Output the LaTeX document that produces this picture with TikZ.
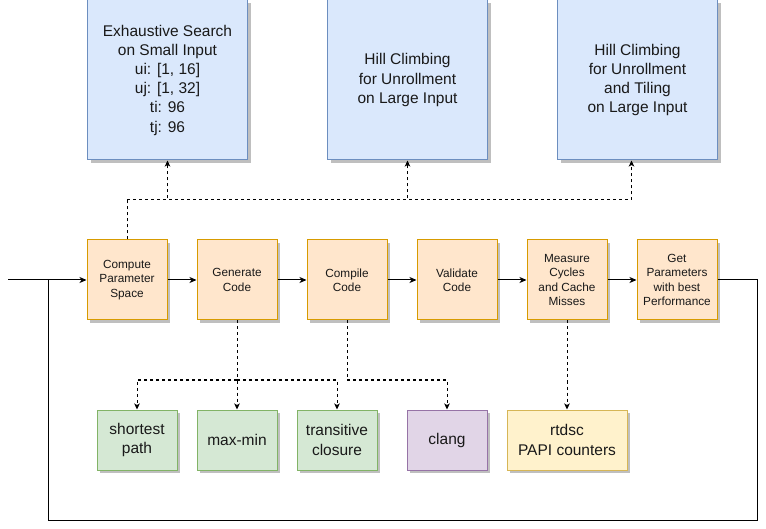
\documentclass[tikz,border=0pt]{standalone}
\usepackage{fontspec}
\setmainfont{Liberation Sans}
\usetikzlibrary{arrows.meta,shadows,calc}
\definecolor{bfill}{HTML}{DAE8FC}\definecolor{bdraw}{HTML}{6C8EBF}
\definecolor{ofill}{HTML}{FFE6CC}\definecolor{odraw}{HTML}{D79B00}
\definecolor{gfill}{HTML}{D5E8D4}\definecolor{gdraw}{HTML}{82B366}
\definecolor{pfill}{HTML}{E1D5E7}\definecolor{pdraw}{HTML}{9673A6}
\definecolor{yfill}{HTML}{FFF2CC}\definecolor{ydraw}{HTML}{D6B656}
\tikzset{
  box/.style={rectangle, line width=1pt, inner sep=0pt, align=center, text=black!90,
    drop shadow={shadow xshift=3pt, shadow yshift=-3pt, fill=black!25, opacity=1}},
  topbox/.style={box, fill=bfill, draw=bdraw, minimum width=160pt, minimum height=160pt,
    font=\fontsize{15.5}{19.2}\selectfont},
  stepbox/.style={box, fill=ofill, draw=odraw, minimum width=80pt, minimum height=80pt,
    font=\fontsize{11.8}{14.4}\selectfont},
  botbox/.style={box, minimum width=80pt, minimum height=60pt, font=\fontsize{15.5}{19.2}\selectfont},
  gbox/.style={botbox, fill=gfill, draw=gdraw},
  arr/.style={line width=1pt, -{Stealth[length=7pt,width=6pt,inset=2pt]}},
  plain/.style={line width=1pt},
  dline/.style={line width=1pt, dash pattern=on 3pt off 3pt},
  darr/.style={dline, -{Stealth[length=6pt,width=5.5pt,inset=1.5pt]}},
}
\begin{document}
\begin{tikzpicture}[x=1pt,y=-1pt]
\useasboundingbox (0,0) rectangle (766,529);
\fill[white] (0,0) rectangle (766,529);
% top boxes
\node[topbox] (s1) at (167.5,80) {Exhaustive Search\\on Small Input\\ui: [1, 16]\\uj: [1, 32]\\ti: 96\\tj: 96};
\node[topbox] (s2) at (407.5,80) {Hill Climbing\\for Unrollment\\on Large Input};
\node[topbox] (s3) at (637.5,80) {Hill Climbing\\for Unrollment\\and Tiling\\on Large Input};
% step boxes
\node[stepbox] (c1) at (127,280) {Compute\\Parameter\\Space};
\node[stepbox] (c2) at (237,280) {Generate\\Code};
\node[stepbox] (c3) at (347,280) {Compile\\Code};
\node[stepbox] (c4) at (457,280) {Validate\\Code};
\node[stepbox] (c5) at (567,280) {Measure\\Cycles\\and Cache\\Misses};
\node[stepbox] (c6) at (677,280) {Get\\Parameters\\with best\\Performance};
% bottom boxes
\node[gbox] (b1) at (137,440) {shortest\\path};
\node[gbox] (b2) at (237,440) {max-min};
\node[gbox] (b3) at (337,440) {transitive\\closure};
\node[botbox, fill=pfill, draw=pdraw] (b4) at (447,440) {clang};
\node[botbox, fill=yfill, draw=ydraw, minimum width=120pt] (b5) at (567,440) {rtdsc\\PAPI counters};
% main flow
\coordinate (in) at (8,280);
\draw[arr] (in) -- (c1.west);
\draw[arr] (c1) -- (c2);
\draw[arr] (c2) -- (c3);
\draw[arr] (c3) -- (c4);
\draw[arr] (c4) -- (c5);
\draw[arr] (c5) -- (c6);
\coordinate (fr) at (757,280);
\coordinate (frb) at (757,520);
\coordinate (flb) at (48,520);
\coordinate (fl) at (48,280);
\draw[plain] (c6.east) -- (fr) -- (frb) -- (flb) -- (fl);
% top dashed
\coordinate (j1) at (127,200);
\draw[dline] (c1.north) -- (j1);
\draw[darr] (j1) -| (s1.south);
\draw[darr] (j1) -| (s2.south);
\draw[darr] (j1) -| ([xshift=-6pt]s3.south);
% bottom dashed
\coordinate (j2) at (237,380);
\draw[darr] (c2.south) -- (b2.north);
\draw[darr] (j2) -| (b1.north);
\draw[darr] (j2) -| (b3.north);
\coordinate (j3) at (347,380);
\draw[dline] (c3.south) -- (j3);
\draw[darr] (j3) -| (b4.north);
\draw[darr] (c5.south) -- (b5.north);
\end{tikzpicture}
\end{document}
